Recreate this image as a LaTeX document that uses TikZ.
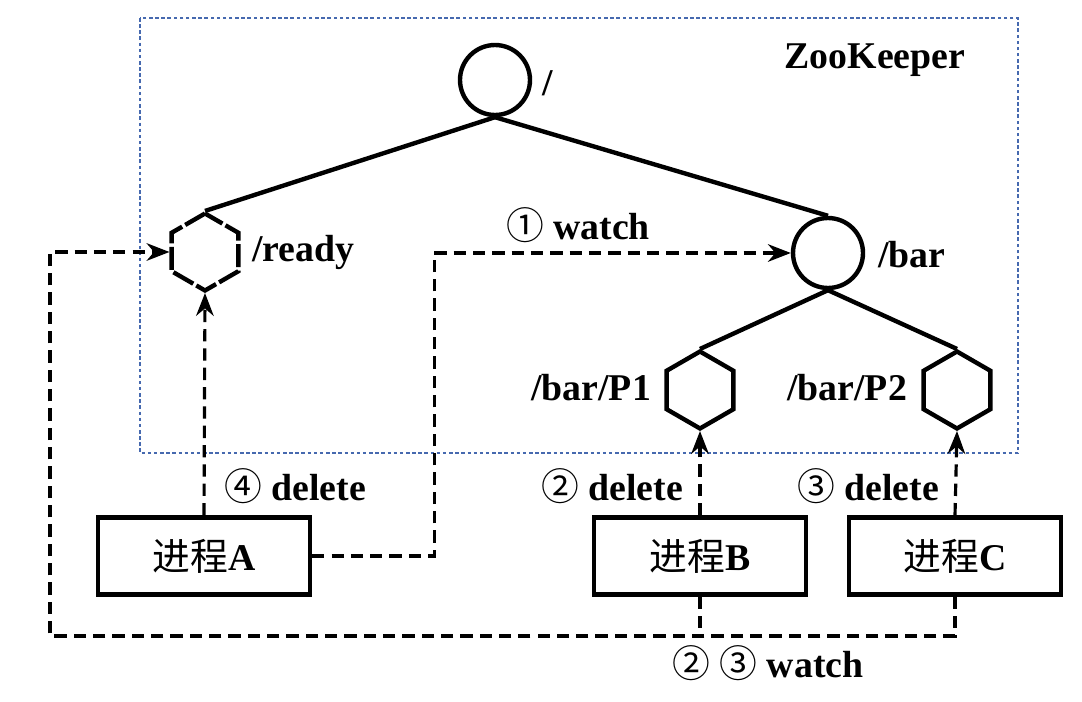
\documentclass[tikz,border=0pt]{standalone}
\usepackage{fontspec}
\setmainfont{Liberation Serif}
\newfontfamily\cjk{Noto Sans CJK SC}
\usepackage{tikz}
\usetikzlibrary{shapes.geometric, arrows.meta, positioning, calc}
\definecolor{ZKBlue}{RGB}{70, 105, 175}
\definecolor{ZKLine}{RGB}{0, 0, 0}
\newcommand{\cnum}[1]{{\cjk\mdseries #1}}

\tikzset{
  znode/.style={circle, draw=ZKLine, line width=2.5pt, minimum size=1.4cm, inner sep=0pt},
  zhex/.style={regular polygon, regular polygon sides=6, shape border rotate=30,
    draw=ZKLine, line width=2.5pt, minimum size=1.54cm, inner sep=0pt},
  procbox/.style={rectangle, draw=ZKLine, line width=2.5pt, minimum width=4.24cm,
    minimum height=1.54cm, inner sep=0pt, font=\fontsize{21.5}{26}\selectfont},
  lbl/.style={font=\fontsize{21.5}{26}\selectfont\bfseries, inner sep=1pt},
  tree/.style={line width=2.5pt, ZKLine},
  flow/.style={line width=1.8pt, dash pattern=on 7pt off 4pt, -{Stealth[length=13pt, width=10pt]}},
  dline/.style={line width=1.8pt, dash pattern=on 7pt off 4pt}
}

\begin{document}
\begin{tikzpicture}[x=0.02cm, y=-0.02cm]
  \useasboundingbox (0,0) rectangle (1082,702);

  % zookeeper area
  \draw[ZKBlue, line width=0.8pt, dash pattern=on 2pt off 1.5pt] (140,18) rectangle (1018,453);
  \node[lbl] (zk) at (875,60) {ZooKeeper};

  % znode tree
  \node[znode] (root) at (495,80) {};
  \node[lbl, anchor=west] (rootlbl) at (540,83) {/};
  \node[zhex, dash pattern=on 13pt off 2pt] (ready) at (205,252) {};
  \node[lbl, anchor=west] (readylbl) at (250,252) {/ready};
  \node[znode] (bar) at (828,253) {};
  \node[lbl, anchor=west] (barlbl) at (876,255) {/bar};
  \node[zhex] (p1) at (700,390) {};
  \node[lbl, anchor=east] (p1lbl) at (653,388) {/bar/P1};
  \node[zhex] (p2) at (957,390) {};
  \node[lbl, anchor=east] (p2lbl) at (909,388) {/bar/P2};

  \draw[tree] (root.south) -- (ready.north);
  \draw[tree] (root.south) -- (bar.north);
  \draw[tree] (bar.south) -- (p1.north);
  \draw[tree] (bar.south) -- (p2.north);

  % processes
  \node[procbox] (procA) at (204,556) {{\cjk 进程}\textbf{A}};
  \node[procbox] (procB) at (700,556) {{\cjk 进程}\textbf{B}};
  \node[procbox] (procC) at (955,556) {{\cjk 进程}\textbf{C}};

  % watches and deletes
  \draw[flow] (procA.east) -- ++(122,0) |- (bar.west);
  \node[lbl] (watch1) at (578,225) {\cnum{①} watch};

  \draw[flow] (procA.north) -- (ready.south);
  \node[lbl] (del4) at (295,486) {\cnum{④} delete};
  \draw[flow] (procB.north) -- (p1.south);
  \node[lbl] (del2) at (612,486) {\cnum{②} delete};
  \draw[flow] (procC.north) -- (p2.south);
  \node[lbl] (del3) at (868,486) {\cnum{③} delete};

  \coordinate (wbus) at (50,636);
  \draw[dline] (procB.south) -- (procB.south |- wbus);
  \draw[flow] (procC.south) -- (procC.south |- wbus) -- (wbus) |- (ready.west);
  \node[lbl] (watch23) at (768,663) {\cnum{②} \cnum{③} watch};
\end{tikzpicture}
\end{document}
